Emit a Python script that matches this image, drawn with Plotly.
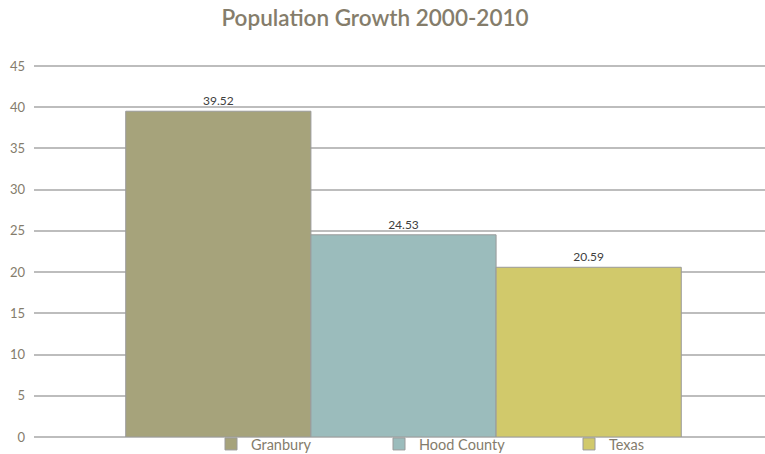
import plotly.graph_objects as go

categories = ["Granbury", "Hood County", "Texas"]
values = [39.52, 24.53, 20.59]
colors = ["#a6a37b", "#9bbcbc", "#d1c96b"]
y_ticks = [0, 5, 10, 15, 20, 25, 30, 35, 40, 45]

fig = go.Figure()
legend_names = ["legend", "legend2", "legend3"]
for name, val, col, lg in zip(categories, values, colors, legend_names):
    fig.add_trace(go.Bar(
        x=[0], y=[val], name=name, showlegend=True,
        marker=dict(color=col, line=dict(color="#9a9a9a", width=1)),
        text=[f"{val:.2f}"], textposition="outside",
        textfont=dict(family="Lato, sans-serif", size=12, color="#404040"),
        cliponaxis=False, legend=lg,
    ))

W, H = 765, 454
L, R, T, B = 34, 0, 64, 17
pw = W - L - R
ph = H - T - B

def px2paper(px):
    return (px - L) / pw

leg_common = dict(orientation="h", yanchor="middle", xanchor="left",
                  font=dict(family="Lato, sans-serif", size=14.5, color="#847c6c"),
                  bgcolor="rgba(0,0,0,0)", itemwidth=30, tracegroupgap=0,
                  y=-7 / ph)

shift = 4 / pw
fig.update_layout(
    width=W, height=H,
    margin=dict(l=L, r=R, t=T, b=B, autoexpand=False),
    paper_bgcolor="white", plot_bgcolor="white",
    barmode="group", bargap=0.24, bargroupgap=0,
    title=dict(text="Population Growth 2000-2010", x=375 / W, xanchor="center",
               y=1 - 18 / H, yanchor="middle",
               font=dict(family="Lato, sans-serif", size=22.5, color="#857d6b", weight=600)),
    xaxis=dict(range=[-0.5 - shift, 0.5 - shift], showticklabels=False, showgrid=False,
               zeroline=False, showline=False),
    yaxis=dict(range=[0, 45.25], tickvals=y_ticks, showgrid=True, gridcolor="#bdbdbd", gridwidth=2,
               zeroline=True, zerolinecolor="#bdbdbd", zerolinewidth=2,
               tickfont=dict(family="Lato, sans-serif", size=13, color="#847c6c"),
               ticklabelstandoff=8, showline=False),
    legend=dict(x=px2paper(211), **leg_common),
    legend2=dict(x=px2paper(379), **leg_common),
    legend3=dict(x=px2paper(569), **leg_common),
)

fig.write_html("out.html", config={"displayModeBar": False},
               post_script="document.body.style.margin='0';")
